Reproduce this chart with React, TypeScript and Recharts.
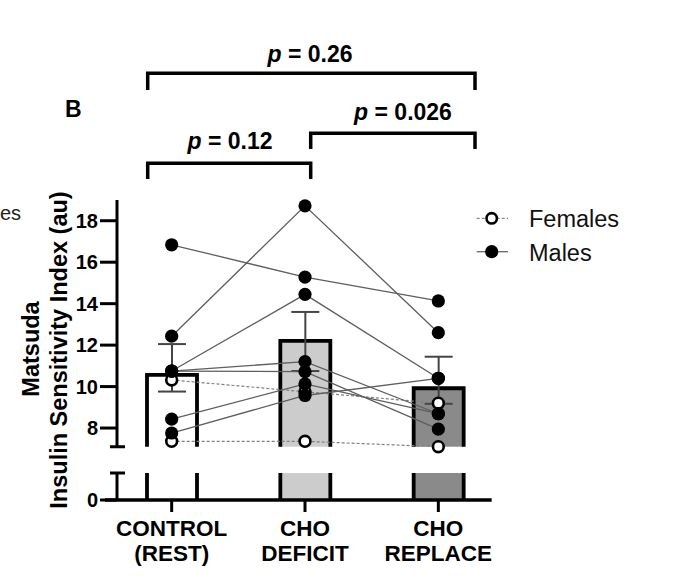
import React from 'react';
import { ComposedChart, Bar, XAxis, YAxis, Line, Scatter, ErrorBar, ReferenceLine, Cell } from 'recharts';

const FONT = '"Liberation Sans", Arial, Helvetica, sans-serif';

const categoryLines = [
  ['CONTROL', '(REST)'],
  ['CHO', 'DEFICIT'],
  ['CHO', 'REPLACE'],
];
const means = [10.56, 12.2, 9.92];
const errLower = [0.8, 1.45, 0.75];
const errUpper = [1.49, 1.4, 1.52];

const males = [
  [16.84, 15.28, 14.13],
  [12.43, 18.72, 12.6],
  [10.75, 14.45, 10.4],
  [10.75, 11.2, 8.69],
  [10.75, 10.72, 7.95],
  [8.43, 10.13, 8.69],
  [7.76, 9.57, 10.4],
];
const females = [
  [10.32, 9.75, 9.2],
  [7.36, 7.36, 7.1],
];

const yTicksUpper = [8, 10, 12, 14, 16, 18];
const yTicksLower = [0];
const xTicks = [0, 1, 2];

const barFills = ['#ffffff', '#cccccc', '#8a8a8a'];

const rows = means.map((m, i) => {
  const r: any = { x: i, mean: m, err: [errLower[i], errUpper[i]] };
  males.forEach((s, k) => (r['m' + k] = s[i]));
  females.forEach((s, k) => (r['f' + k] = s[i]));
  return r;
});
const malePts = males.flatMap((s) => s.map((y, i) => ({ x: i, y })));
const femalePts = females.flatMap((s) => s.map((y, i) => ({ x: i, y })));

const X_DOMAIN: [number, number] = [-0.41, 2.5];

const TopBar = (p: any) => {
  const { x, y, width, height, fill } = p;
  if (width == null) return null;
  return (
    <g>
      <rect x={x} y={y} width={width} height={height} fill={fill} />
      <path
        d={`M${x},${y + height} L${x},${y} L${x + width},${y} L${x + width},${y + height}`}
        fill="none"
        stroke="#000"
        strokeWidth={3.8}
      />
    </g>
  );
};

const LowBar = (p: any) => {
  const { x, y, width, height, fill } = p;
  if (width == null) return null;
  return (
    <g>
      <rect x={x} y={y} width={width} height={height} fill={fill} />
      <path
        d={`M${x},${y} L${x},${y + height} M${x + width},${y} L${x + width},${y + height}`}
        fill="none"
        stroke="#000"
        strokeWidth={3.8}
      />
    </g>
  );
};

const MaleDot = (p: any) => <circle cx={p.cx} cy={p.cy} r={6.6} fill="#000" />;
const FemaleDot = (p: any) => (
  <circle cx={p.cx} cy={p.cy} r={5.4} fill="#fff" stroke="#000" strokeWidth={2.6} />
);

const CatTick = (p: any) => {
  const { x, y, payload } = p;
  const lines = categoryLines[payload.value] || ['', ''];
  return (
    <text x={x} y={y} textAnchor="middle" fontSize={22.5} fontWeight={700} fontFamily={FONT} fill="#000">
      <tspan x={x} dy={22}>{lines[0]}</tspan>
      <tspan x={x} dy={25}>{lines[1]}</tspan>
    </text>
  );
};

const tickStyle = { fill: '#000', fontSize: 20, fontWeight: 700, fontFamily: FONT };

export default function App() {
  return (
    <div style={{ position: 'absolute', left: 0, top: 0, width: 680, height: 587, background: '#fff' }}>
      <div style={{ position: 'absolute', left: 0, top: 0 }}>
        <ComposedChart width={680} height={587} data={rows} margin={{ top: 473, right: 175, bottom: 27, left: 57 }}>
          <XAxis
            type="number"
            dataKey="x"
            domain={X_DOMAIN}
            ticks={xTicks}
            interval={0}
            height={60}
            tickSize={12}
            axisLine={false}
            tickLine={{ stroke: '#000', strokeWidth: 3 }}
            tick={<CatTick />}
          />
          <YAxis
            type="number"
            domain={[0, 1.3]}
            allowDataOverflow
            ticks={yTicksLower}
            interval={0}
            width={60}
            tickSize={17}
            axisLine={{ stroke: '#000', strokeWidth: 3 }}
            tickLine={{ stroke: '#000', strokeWidth: 3 }}
            tick={tickStyle}
          />
          <Bar dataKey="mean" barSize={50} shape={<LowBar />} isAnimationActive={false}>
            {barFills.map((f, i) => (
              <Cell key={i} fill={f} />
            ))}
          </Bar>
          <ReferenceLine
            segment={[{ x: -0.5, y: 0 }, { x: 2.4, y: 0 }]}
            stroke="#000"
            strokeWidth={3.5}
            ifOverflow="visible"
          />
        </ComposedChart>
      </div>
      <div style={{ position: 'absolute', left: 0, top: 0 }}>
        <ComposedChart width={680} height={587} data={rows} margin={{ top: 200, right: 175, bottom: 140.3, left: 57 }}>
          <XAxis type="number" dataKey="x" domain={X_DOMAIN} hide />
          <YAxis
            type="number"
            domain={[7.1, 19]}
            ticks={yTicksUpper}
            interval={0}
            width={60}
            tickSize={17}
            axisLine={{ stroke: '#000', strokeWidth: 3 }}
            tickLine={{ stroke: '#000', strokeWidth: 3 }}
            tick={tickStyle}
          />
          <Bar dataKey="mean" barSize={50} shape={<TopBar />} isAnimationActive={false}>
            {barFills.map((f, i) => (
              <Cell key={i} fill={f} />
            ))}
            <ErrorBar dataKey="err" width={14} stroke="#444" strokeWidth={2} direction="y" />
          </Bar>
          {females.map((_, k) => (
            <Line
              key={'f' + k}
              dataKey={'f' + k}
              type="linear"
              stroke="#808080"
              strokeWidth={1.2}
              strokeDasharray="3 2"
              dot={false}
              activeDot={false}
              isAnimationActive={false}
            />
          ))}
          {males.map((_, k) => (
            <Line
              key={'m' + k}
              dataKey={'m' + k}
              type="linear"
              stroke="#5e5e5e"
              strokeWidth={1.3}
              dot={false}
              activeDot={false}
              isAnimationActive={false}
            />
          ))}
          <Scatter data={femalePts} dataKey="y" shape={<FemaleDot />} isAnimationActive={false} />
          <Scatter data={malePts} dataKey="y" shape={<MaleDot />} isAnimationActive={false} />
        </ComposedChart>
      </div>
      <svg
        width={680}
        height={587}
        style={{ position: 'absolute', left: 0, top: 0, pointerEvents: 'none' }}
        fontFamily={FONT}
      >
        {/* axis break caps */}
        <path d="M110,446.7 H125 M110,473 H125" stroke="#000" strokeWidth={3} />
        {/* significance brackets */}
        <path d="M147.7,90 V73.3 H475 V90" fill="none" stroke="#000" strokeWidth={3.5} />
        <path d="M147.7,179 V163.3 H310.7 V179" fill="none" stroke="#000" strokeWidth={3.5} />
        <path d="M310.7,149 V133.3 H475 V149" fill="none" stroke="#000" strokeWidth={3.5} />
        <text x={310} y={61.7} textAnchor="middle" fontSize={23} fontWeight={700} fill="#000">
          <tspan fontStyle="italic">p</tspan>
          <tspan>{' = 0.26'}</tspan>
        </text>
        <text x={403} y={120} textAnchor="middle" fontSize={23} fontWeight={700} fill="#000">
          <tspan fontStyle="italic">p</tspan>
          <tspan>{' = 0.026'}</tspan>
        </text>
        <text x={230} y={149} textAnchor="middle" fontSize={23} fontWeight={700} fill="#000">
          <tspan fontStyle="italic">p</tspan>
          <tspan>{' = 0.12'}</tspan>
        </text>
        {/* panel letter and fragment of neighbouring legend */}
        <text x={65} y={117.3} fontSize={23} fontWeight={700} fill="#000">B</text>
        <text x={0} y={220} fontSize={20} fill="#222">es</text>
        {/* y axis title */}
        <text
          transform="translate(31,349) rotate(-90)"
          textAnchor="middle"
          dominantBaseline="central"
          fontSize={23.5}
          fontWeight={700}
          fill="#000"
        >
          Matsuda
        </text>
        <text
          transform="translate(59,350) rotate(-90)"
          textAnchor="middle"
          dominantBaseline="central"
          fontSize={23.5}
          fontWeight={700}
          fill="#000"
        >
          Insulin Sensitivity Index (au)
        </text>
        {/* legend */}
        <line x1={476.7} y1={218.3} x2={508} y2={218.3} stroke="#888" strokeWidth={1.3} strokeDasharray="3 2" />
        <circle cx={491.7} cy={218.3} r={5.2} fill="#fff" stroke="#000" strokeWidth={2.6} />
        <text x={529} y={226.7} fontSize={23.5} fill="#111">Females</text>
        <line x1={476.7} y1={251.7} x2={508} y2={251.7} stroke="#666" strokeWidth={1.3} />
        <circle cx={491.7} cy={251.7} r={6.6} fill="#000" />
        <text x={529} y={260.7} fontSize={23.5} fill="#111">Males</text>
      </svg>
    </div>
  );
}
